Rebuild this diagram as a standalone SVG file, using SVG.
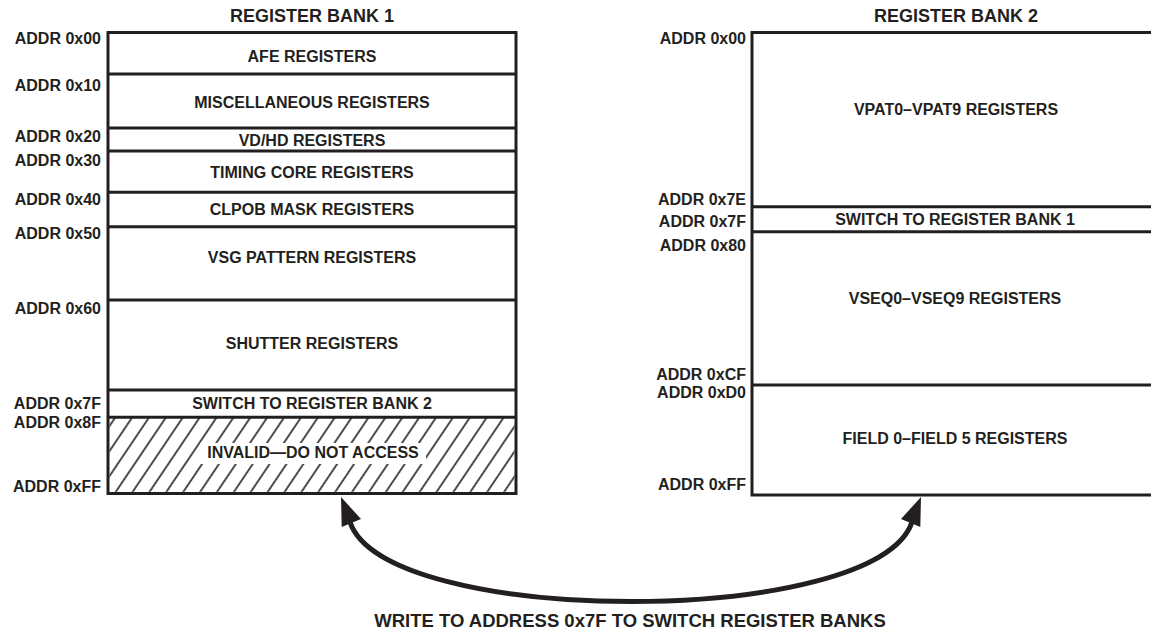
<svg xmlns="http://www.w3.org/2000/svg" width="1151" height="634" viewBox="0 0 1151 634">
<style>
text{font-family:"Liberation Sans",Arial,sans-serif;font-weight:bold;fill:#231f20}
.t{font-size:18px;text-anchor:middle}
.l{font-size:16px;text-anchor:middle}
.a{font-size:16px;text-anchor:end}
.b{font-size:18.5px;text-anchor:middle}
.box{fill:#fff;stroke:#231f20;stroke-width:3}
.ln{stroke:#231f20;stroke-width:3;fill:none}
</style>
<defs>
<pattern id="hatch" patternUnits="userSpaceOnUse" width="14" height="14" patternTransform="rotate(34)">
<line x1="7" y1="-1" x2="7" y2="15" stroke="#231f20" stroke-width="1.6"/>
</pattern>
</defs>
<rect width="1151" height="634" fill="#fff"/>

<g id="bank1">
<text class="t" x="312" y="22">REGISTER BANK 1</text>
<rect class="box" x="108" y="32.5" width="408" height="461"/>
<g id="b1-afe"><text class="l" x="312" y="62">AFE REGISTERS</text><text class="a" x="101" y="44">ADDR 0x00</text></g>
<g id="b1-misc"><line class="ln" x1="108" y1="74" x2="516" y2="74"/><text class="l" x="312" y="108">MISCELLANEOUS REGISTERS</text><text class="a" x="101" y="91">ADDR 0x10</text></g>
<g id="b1-vdhd"><line class="ln" x1="108" y1="128" x2="516" y2="128"/><text class="l" x="312" y="146">VD/HD REGISTERS</text><text class="a" x="101" y="141.5">ADDR 0x20</text></g>
<g id="b1-timing"><line class="ln" x1="108" y1="151" x2="516" y2="151"/><text class="l" x="312" y="177.5">TIMING CORE REGISTERS</text><text class="a" x="101" y="165.5">ADDR 0x30</text></g>
<g id="b1-clpob"><line class="ln" x1="108" y1="192.3" x2="516" y2="192.3"/><text class="l" x="312" y="215.3">CLPOB MASK REGISTERS</text><text class="a" x="101" y="205">ADDR 0x40</text></g>
<g id="b1-vsg"><line class="ln" x1="108" y1="226.7" x2="516" y2="226.7"/><text class="l" x="312" y="263.3">VSG PATTERN REGISTERS</text><text class="a" x="101" y="239">ADDR 0x50</text></g>
<g id="b1-shutter"><line class="ln" x1="108" y1="300" x2="516" y2="300"/><text class="l" x="312" y="348.7">SHUTTER REGISTERS</text><text class="a" x="101" y="314">ADDR 0x60</text></g>
<g id="b1-switch"><line class="ln" x1="108" y1="390" x2="516" y2="390"/><text class="l" x="312" y="409">SWITCH TO REGISTER BANK 2</text><text class="a" x="101" y="409">ADDR 0x7F</text></g>
<g id="b1-invalid">
<rect x="109.5" y="417.3" width="405" height="74.5" fill="url(#hatch)"/>
<line class="ln" x1="108" y1="417.3" x2="516" y2="417.3"/>
<rect x="200" y="443" width="226" height="21" fill="#fff"/>
<text class="l" x="313" y="458">INVALID—DO NOT ACCESS</text>
<text class="a" x="101" y="428">ADDR 0x8F</text>
<text class="a" x="101" y="492">ADDR 0xFF</text>
</g>
</g>

<g id="bank2">
<text class="t" x="956" y="22">REGISTER BANK 2</text>
<rect class="box" x="752" y="32.5" width="408" height="462.5"/>
<g id="b2-vpat"><text class="l" x="956" y="115">VPAT0–VPAT9 REGISTERS</text><text class="a" x="746" y="44.3">ADDR 0x00</text><text class="a" x="746" y="205">ADDR 0x7E</text></g>
<g id="b2-switch"><line class="ln" x1="752" y1="206.7" x2="1160" y2="206.7"/><text class="l" x="955" y="225">SWITCH TO REGISTER BANK 1</text><text class="a" x="746" y="226.7">ADDR 0x7F</text></g>
<g id="b2-vseq"><line class="ln" x1="752" y1="231.7" x2="1160" y2="231.7"/><text class="l" x="955" y="304">VSEQ0–VSEQ9 REGISTERS</text><text class="a" x="746" y="250.7">ADDR 0x80</text><text class="a" x="746" y="380">ADDR 0xCF</text></g>
<g id="b2-field"><line class="ln" x1="752" y1="385" x2="1160" y2="385"/><text class="l" x="955" y="444">FIELD 0–FIELD 5 REGISTERS</text><text class="a" x="746" y="398.3">ADDR 0xD0</text><text class="a" x="746" y="490">ADDR 0xFF</text></g>
</g>

<g id="connectors">
<path d="M350,522 C385,628 877,628 912,522" fill="none" stroke="#231f20" stroke-width="5"/>
<polygon points="341,497 341.7,527 361,519" fill="#231f20"/>
<polygon points="921,497 920.3,527 901,519" fill="#231f20"/>
</g>
<text class="b" x="630" y="627">WRITE TO ADDRESS 0x7F TO SWITCH REGISTER BANKS</text>
</svg>
